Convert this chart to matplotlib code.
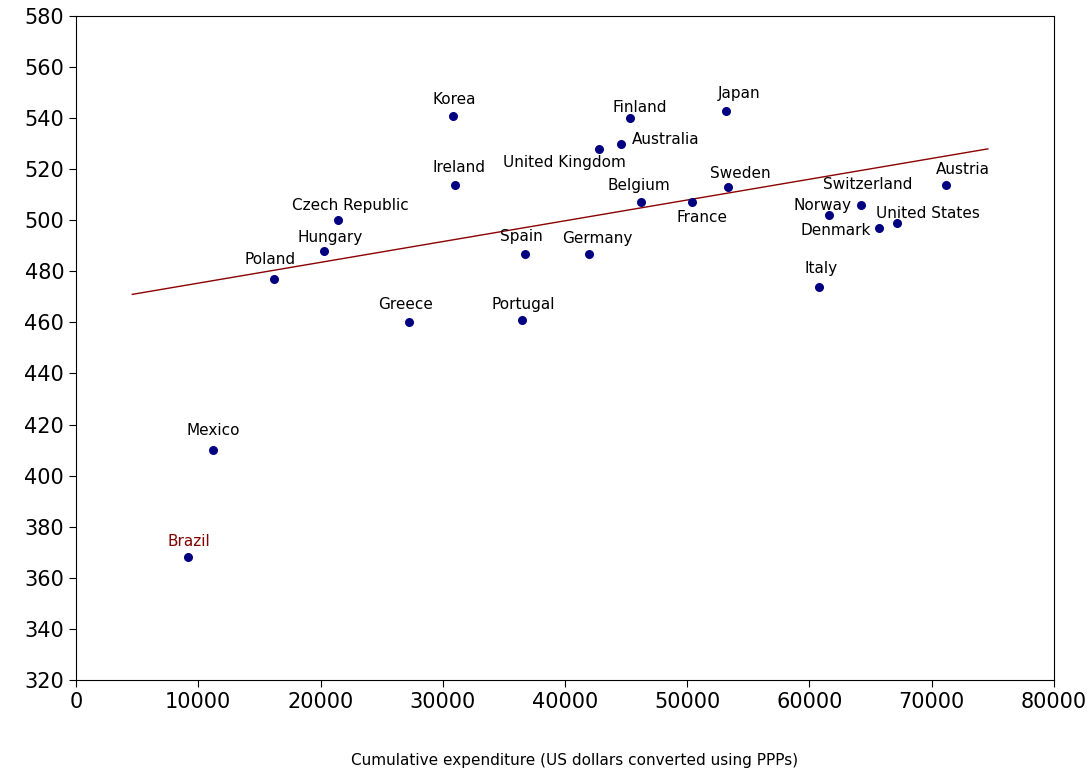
import numpy as np
import matplotlib
matplotlib.use("Agg")
import matplotlib.pyplot as plt

countries = ["Brazil", "Mexico", "Poland", "Hungary", "Czech Republic", "Greece", "Korea",
             "Ireland", "Portugal", "Spain", "Germany", "United Kingdom", "Australia",
             "Finland", "Belgium", "France", "Japan", "Sweden", "Italy", "Norway",
             "Switzerland", "Denmark", "United States", "Austria"]
expenditure = [9200, 11200, 16200, 20300, 21400, 27200, 30800, 31000, 36500, 36700, 42000,
               42800, 44600, 45300, 46200, 50400, 53200, 53300, 60800, 61600, 64200,
               65700, 67200, 71200]
score = [368, 410, 477, 488, 500, 460, 541, 514, 461, 487, 487, 528, 530, 540, 507, 507,
         543, 513, 474, 502, 506, 497, 499, 514]

# trend line as drawn in the original
trend_x = [4600, 74600]
trend_y = [471, 528]

# label offsets in points (dx, dy)
offsets = {"Brazil": (0, 11), "Mexico": (0, 14), "Poland": (-3, 14), "Hungary": (4, 10),
           "Czech Republic": (9, 11), "Greece": (-2, 13), "Korea": (1, 12), "Ireland": (3, 12),
           "Portugal": (1, 11), "Spain": (-2, 12), "Germany": (6, 11),
           "United Kingdom": (-25, -10), "Australia": (32, 3), "Finland": (7, 8),
           "Belgium": (-1, 12), "France": (7, -11), "Japan": (9, 12), "Sweden": (9, 10),
           "Italy": (1, 13), "Norway": (-5, 7), "Switzerland": (5, 15), "Denmark": (-31, -2),
           "United States": (22, 7), "Austria": (12, 11)}

fig = plt.figure(figsize=(10.91, 7.69), dpi=100)
ax = fig.add_axes([0.0697, 0.116, 0.8963, 0.863])

ax.scatter(expenditure, score, s=30, color="#000080", zorder=3)
ax.plot(trend_x, trend_y, color="#8b0000", lw=1)

for c, x, y in zip(countries, expenditure, score):
    dx, dy = offsets[c]
    ax.annotate(c, (x, y), xytext=(dx, dy), textcoords="offset points", ha="center",
                va="center", fontsize=11, color="#800000" if c == "Brazil" else "black")

ax.set_xlim(0, 80000)
ax.set_ylim(320, 580)
ax.set_xticks(range(0, 80001, 10000))
ax.set_yticks(range(320, 581, 20))
ax.tick_params(labelsize=15, length=5)
fig.text(0.527, 0.0115, "Cumulative expenditure (US dollars converted using PPPs)",
         fontsize=11, ha="center", va="center")
for s in ax.spines.values():
    s.set_linewidth(0.8)

fig.savefig("out.png")
